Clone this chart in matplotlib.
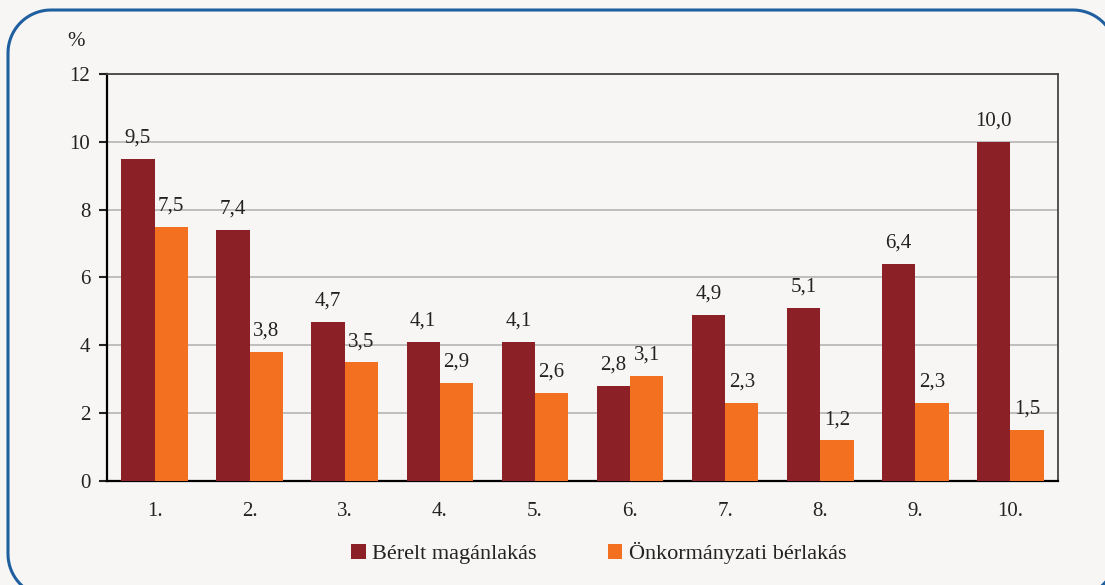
import matplotlib.pyplot as plt
import numpy as np
from matplotlib.patches import PathPatch
from matplotlib.path import Path
from matplotlib.transforms import IdentityTransform

plt.rcParams['font.family'] = ['Liberation Serif', 'DejaVu Serif']

categories = ['1.', '2.', '3.', '4.', '5.', '6.', '7.', '8.', '9.', '10.']
berelt = [9.5, 7.4, 4.7, 4.1, 4.1, 2.8, 4.9, 5.1, 6.4, 10.0]
onkorm = [7.5, 3.8, 3.5, 2.9, 2.6, 3.1, 2.3, 1.2, 2.3, 1.5]
series_names = ['Bérelt magánlakás', 'Önkormányzati bérlakás']

bg = '#f7f6f4'
c1 = '#8b2026'
c2 = '#f37021'
txt = '#222222'

fig = plt.figure(figsize=(11.05, 5.85), dpi=100, facecolor=bg)
ax = fig.add_axes([0.0968, 0.1778, 0.8607, 0.6957], facecolor=bg)

# rounded frame around the chart, in pixels (y up from bottom)
def rounded_rect(x0, y0, x1, y1, r):
    pts = []
    for cx, cy, a0 in ((x1 - r, y1 - r, 0), (x0 + r, y1 - r, 90),
                       (x0 + r, y0 + r, 180), (x1 - r, y0 + r, 270)):
        t = np.radians(np.linspace(a0, a0 + 90, 20))
        pts += list(zip(cx + r * np.cos(t), cy + r * np.sin(t)))
    pts.append(pts[0])
    return Path(pts)

frame = PathPatch(rounded_rect(8, -12, 1116, 575, 43), transform=IdentityTransform(),
                  facecolor='none', edgecolor='#1f5fa0', linewidth=2.2, clip_on=False)
fig.patches.append(frame)

x = np.arange(len(categories))
w = 0.35
b1 = ax.bar(x - w / 2, berelt, w, color=c1, label=series_names[0], zorder=3)
b2 = ax.bar(x + w / 2, onkorm, w, color=c2, label=series_names[1], zorder=3)

def fmt(v):
    return f'{v:.1f}'.replace('.', ',')

for bars, vals in ((b1, berelt), (b2, onkorm)):
    for r, v in zip(bars, vals):
        ax.text(r.get_x() + r.get_width() / 2, v + 0.33, fmt(v), ha='center',
                va='bottom', fontsize=15, color=txt)

ax.set_xlim(-0.5, len(categories) - 0.5)
ax.set_ylim(0, 12)
ax.set_yticks(np.arange(0, 13, 2))
ax.set_xticks(x)
ax.set_xticklabels(categories)
ax.tick_params(axis='y', labelsize=15, colors=txt, length=6, width=1.5, direction='out', pad=6)
ax.tick_params(axis='x', labelsize=15, colors=txt, length=0, pad=15)
ax.yaxis.grid(True, color='#b4b4b4', linewidth=1.2, zorder=0)
ax.set_axisbelow(True)
for s in ('left', 'bottom'):
    ax.spines[s].set_color('black')
    ax.spines[s].set_linewidth(1.6)
for s in ('top', 'right'):
    ax.spines[s].set_color('#444444')
    ax.spines[s].set_linewidth(1.3)

fig.text(76 / 1105, 1 - 42 / 585, '%', ha='center', va='center', fontsize=15, color=txt)

leg = fig.legend(handles=[b1, b2], loc='center', bbox_to_anchor=(0.542, 1 - 553 / 585),
                 ncol=2, frameon=False, fontsize=16, handlelength=0.65, handleheight=0.65,
                 handletextpad=0.3, columnspacing=3.2)
for t in leg.get_texts():
    t.set_color(txt)

fig.savefig('out.png', dpi=100, facecolor=bg)
